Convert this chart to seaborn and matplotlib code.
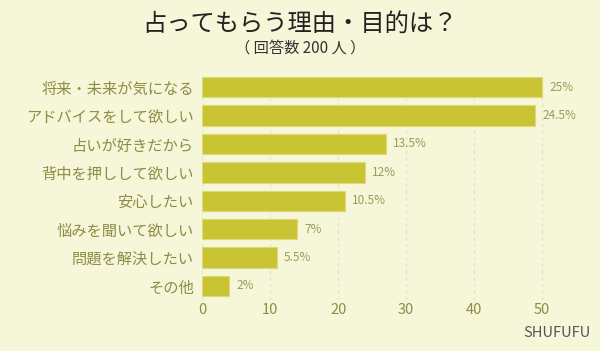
import matplotlib
matplotlib.use("Agg")
import matplotlib.pyplot as plt
import seaborn as sns
import pandas as pd

# --- Data ---
categories = ["将来・未来が気になる", "アドバイスをして欲しい", "占いが好きだから", "背中を押しして欲しい",
              "安心したい", "悩みを聞いて欲しい", "問題を解決したい", "その他"]
counts = [50, 49, 27, 24, 21, 14, 11, 4]
pct_labels = ["25%", "24.5%", "13.5%", "12%", "10.5%", "7%", "5.5%", "2%"]
x_ticks = [0, 10, 20, 30, 40, 50]

BG = "#F6F6D9"
BAR = "#C9C433"
OLIVE = "#8E8C45"

sns.set_style("white")
plt.rcParams["font.family"] = ["Noto Sans CJK JP", "DejaVu Sans"]

df = pd.DataFrame({"cat": categories, "n": counts})

fig = plt.figure(figsize=(6, 3.51), dpi=100, facecolor=BG)
ax = fig.add_axes([0.337, 0.145, 0.646, 0.647])
ax.set_facecolor(BG)

sns.barplot(data=df, x="n", y="cat", color=BAR, width=0.72, saturation=1,
            edgecolor="#DEDA7A", linewidth=0.8, ax=ax, zorder=3)

ax.set_xlim(0, 57)
ax.set_xticks(x_ticks)
ax.grid(axis="x", linestyle=(0, (3, 3)), color="#E2E2C8", linewidth=0.8, zorder=0)
ax.grid(axis="y", visible=False)
for s in ax.spines.values():
    s.set_visible(False)

ax.set_xlabel("")
ax.set_ylabel("")
ax.tick_params(axis="x", length=0, labelsize=10.5, labelcolor=OLIVE, pad=2)
ax.tick_params(axis="y", length=0, labelsize=11, labelcolor=OLIVE, pad=6)

for container in ax.containers:
    ax.bar_label(container, labels=pct_labels, padding=5, fontsize=8.5, color="#9C9A5C")

fig.text(0.5, 0.932, "占ってもらう理由・目的は？", ha="center", va="center",
         fontsize=17.5, color="#222222")
fig.text(0.5, 0.862, "（ 回答数 200 人 ）", ha="center", va="center",
         fontsize=11, color="#333333")
fig.text(0.984, 0.05, "SHUFUFU", ha="right", va="center", fontsize=10.5, color="#555555")

fig.savefig("out.png", dpi=100, facecolor=BG)
